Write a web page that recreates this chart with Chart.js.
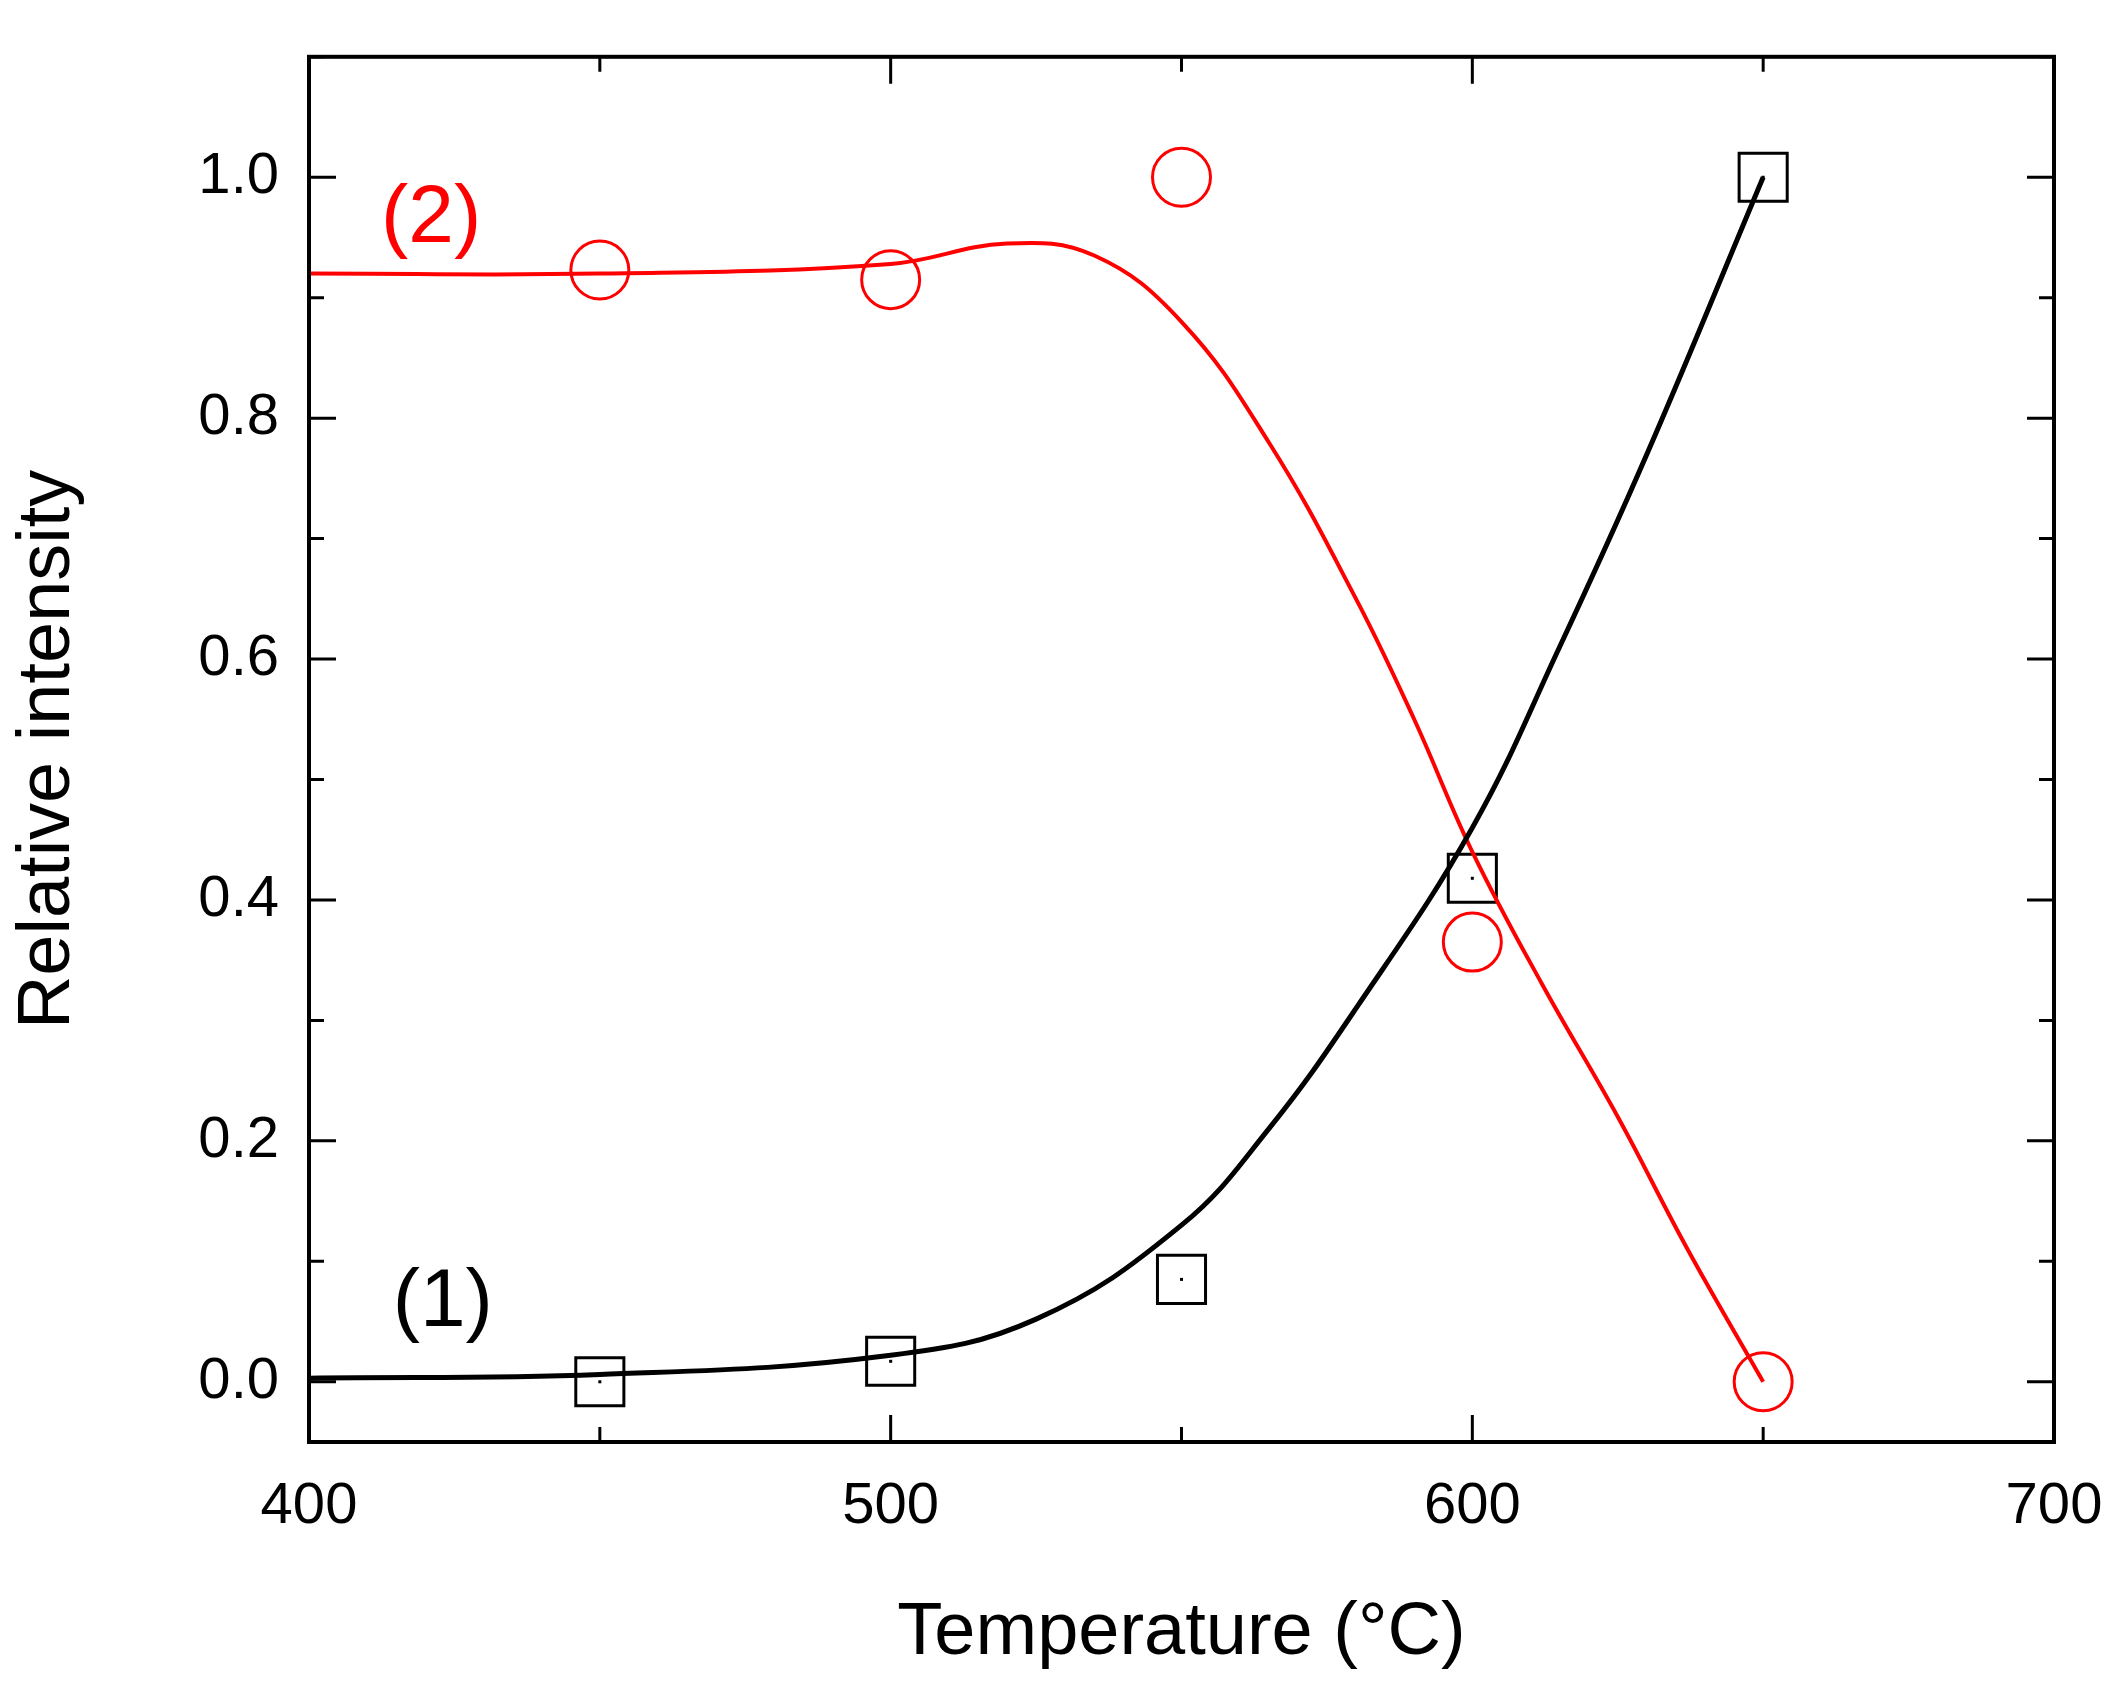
<!DOCTYPE html><html><head><meta charset="utf-8">
<script src="https://cdn.jsdelivr.net/npm/chart.js@4/dist/chart.umd.min.js"></script>
<style>html,body{margin:0;background:#fff}#w{width:2126px;height:1682px}</style></head><body>
<div id="w"><canvas id="c"></canvas></div>
<script>
const temps=[450,500,550,600,650];
const s1=[0.0,0.017,0.085,0.418,1.0];
const s2=[0.923,0.915,1.0,0.365,0.0];
const fitX1=[400,450,500,525,550,565,580,600,615,630,650];
const fit1=[0.003,0.006,0.022,0.052,0.13,0.21,0.31,0.46,0.61,0.77,1.0];
const fitX2=[400,450,500,520,535,550,565,580,590,600,612,625,637,650];
const fit2=[0.92,0.92,0.928,0.945,0.935,0.88,0.78,0.65,0.55,0.44,0.33,0.22,0.11,0.0];
const xTicks=[400,500,600,700];
const yTicks=[0.0,0.2,0.4,0.6,0.8,1.0];
const labels=[{t:'(2)',x:421,y:0.965,c:'#ff0000'},{t:'(1)',x:423,y:0.065,c:'#000'}];
const pts=(xs,ys)=>xs.map((x,i)=>({x,y:ys[i]}));
const F='"Liberation Sans", Arial, sans-serif';
const deco={id:'deco',afterDatasetsDraw(ch){const c=ch.ctx,a=ch.chartArea,xs=ch.scales.x,ys=ch.scales.y;
c.save();c.strokeStyle='#000';c.lineWidth=4;c.strokeRect(a.left,a.top,a.right-a.left,a.bottom-a.top);
c.lineWidth=3;
for(let v=400;v<=700;v+=50){const p=xs.getPixelForValue(v),L=v%100===0?27:15;c.beginPath();c.moveTo(p,a.bottom);c.lineTo(p,a.bottom-L);c.moveTo(p,a.top);c.lineTo(p,a.top+L);c.stroke();}
for(let i=0;i<=11;i++){const v=i*0.1,p=ys.getPixelForValue(v),L=i%2===0?27:15;c.beginPath();c.moveTo(a.left,p);c.lineTo(a.left+L,p);c.moveTo(a.right,p);c.lineTo(a.right-L,p);c.stroke();}
c.fillStyle='#000';ch.data.datasets[2].data.forEach(d=>{c.fillRect(xs.getPixelForValue(d.x)-1.5,ys.getPixelForValue(d.y)-1.5,3,3);});
c.font='82px '+F;c.textAlign='center';c.textBaseline='middle';
labels.forEach(l=>{c.fillStyle=l.c;c.fillText(l.t,xs.getPixelForValue(l.x),ys.getPixelForValue(l.y));});
c.restore();}};
new Chart(document.getElementById('c'),{type:'scatter',data:{datasets:[
{data:pts(fitX1,fit1),showLine:true,borderColor:'#000',borderWidth:5,pointRadius:0,tension:0.4},
{data:pts(fitX2,fit2),showLine:true,borderColor:'#ff0000',borderWidth:4,pointRadius:0,tension:0.4},
{data:pts(temps,s1),pointStyle:'rect',pointRadius:34,borderColor:'#000',backgroundColor:'rgba(255,255,255,0)',borderWidth:3},
{data:pts(temps,s2),pointStyle:'circle',pointRadius:29,borderColor:'#ff0000',backgroundColor:'rgba(255,255,255,0)',borderWidth:3}
]},options:{responsive:true,maintainAspectRatio:false,animation:false,
layout:{padding:{top:45,right:72,left:0,bottom:0}},
plugins:{legend:{display:false},tooltip:{enabled:false}},
scales:{x:{min:400,max:700,grid:{display:false},border:{display:false},
afterBuildTicks:s=>{s.ticks=xTicks.map(v=>({value:v}))},afterFit:s=>{s.height=240},
ticks:{color:'#000',font:{family:F,size:58},padding:22,maxRotation:0},
title:{display:true,text:'Temperature (°C)',color:'#000',font:{family:F,size:74},padding:{top:16}}},
y:{min:-0.05,max:1.1,grid:{display:false},border:{display:false},
afterBuildTicks:s=>{s.ticks=yTicks.map(v=>({value:v}))},afterFit:s=>{s.width=309},
ticks:{color:'#000',font:{family:F,size:58},padding:22,callback:v=>v.toFixed(1)},
title:{display:true,text:'Relative intensity',color:'#000',font:{family:F,size:74},padding:{bottom:26}}}}},
plugins:[deco]});
</script></body></html>
